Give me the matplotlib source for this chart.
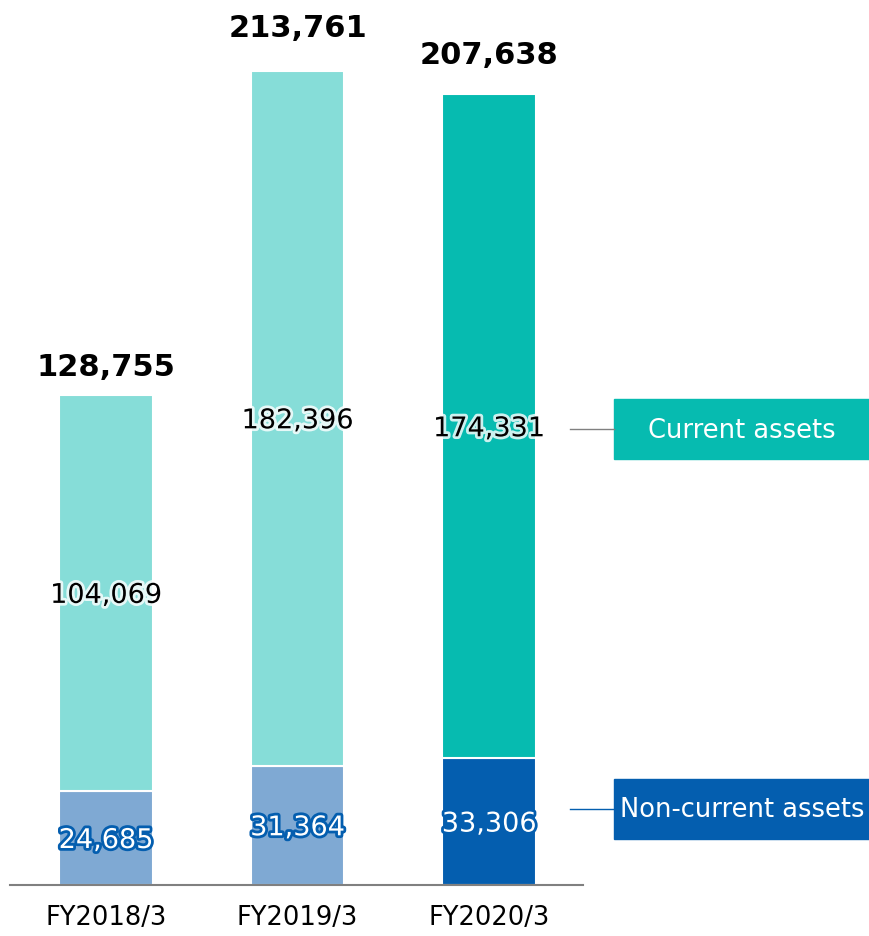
import matplotlib.pyplot as plt
import matplotlib.patheffects as pe
from matplotlib.patches import Rectangle
from matplotlib.lines import Line2D

years = ["FY2018/3", "FY2019/3", "FY2020/3"]
non_current = [24685, 31364, 33306]
current = [104069, 182396, 174331]
totals = [128755, 213761, 207638]

# gap above each bar for the total label (points)
total_gap = [10, 21, 18]

light_cur = "#86DDD8"
dark_cur = "#06BBB0"
light_non = "#7FA9D3"
dark_non = "#045EAF"

W, H = 870, 937
fig = plt.figure(figsize=(W / 100, H / 100), dpi=100)
ax = fig.add_axes([10 / W, (H - 886) / H, (583 - 10) / W, 886 / H])

x = list(range(len(years)))
cur_colors = [light_cur, light_cur, dark_cur]
non_colors = [light_non, light_non, dark_non]

ax.bar(x, non_current, width=0.49, color=non_colors, edgecolor="white", linewidth=1.5)
ax.bar(x, current, width=0.49, bottom=non_current, color=cur_colors,
       edgecolor="white", linewidth=1.5)

for i in x:
    ax.text(i, non_current[i] / 2, f"{non_current[i]:,}", ha="center",
            va="center_baseline", fontsize=19.5, color="white",
            path_effects=[pe.withStroke(linewidth=4, foreground=dark_non)])
    ax.text(i, non_current[i] + current[i] / 2, f"{current[i]:,}", ha="center",
            va="center_baseline", fontsize=19.5, color="black",
            path_effects=[pe.withStroke(linewidth=4, foreground="white", alpha=0.8)])
    ax.annotate(f"{totals[i]:,}", (i, totals[i]), xytext=(0, total_gap[i]),
                textcoords="offset points", ha="center", va="bottom",
                fontsize=22, fontweight="bold")

ax.set_xlim(-0.501, 2.49)
ax.set_ylim(0, 232670)
ax.set_yticks([])
ax.set_xticks(x)
ax.set_xticklabels(years, fontsize=18.5)
ax.tick_params(axis="x", length=0, pad=14)
for s in ["top", "right", "left"]:
    ax.spines[s].set_visible(False)
ax.spines["bottom"].set_color("#808080")
ax.spines["bottom"].set_linewidth(1.5)

# legend boxes
def fx(px):
    return px / W

def fy(py):
    return (H - py) / H

fig.patches.append(Rectangle((fx(614), fy(460)), fx(869) - fx(614), fy(400) - fy(460),
                             transform=fig.transFigure, color=dark_cur))
fig.text(fx(742), fy(431), "Current assets", color="white", fontsize=18.5,
         ha="center", va="center")
fig.lines.append(Line2D([fx(570), fx(614)], [fy(430), fy(430)],
                        transform=fig.transFigure, color="#808080", lw=1))

fig.patches.append(Rectangle((fx(614), fy(840)), fx(869) - fx(614), fy(780) - fy(840),
                             transform=fig.transFigure, color=dark_non))
fig.text(fx(742), fy(810), "Non-current assets", color="white", fontsize=18.5,
         ha="center", va="center")
fig.lines.append(Line2D([fx(570), fx(614)], [fy(810), fy(810)],
                        transform=fig.transFigure, color=dark_non, lw=1))

fig.savefig("out.png", dpi=100)
